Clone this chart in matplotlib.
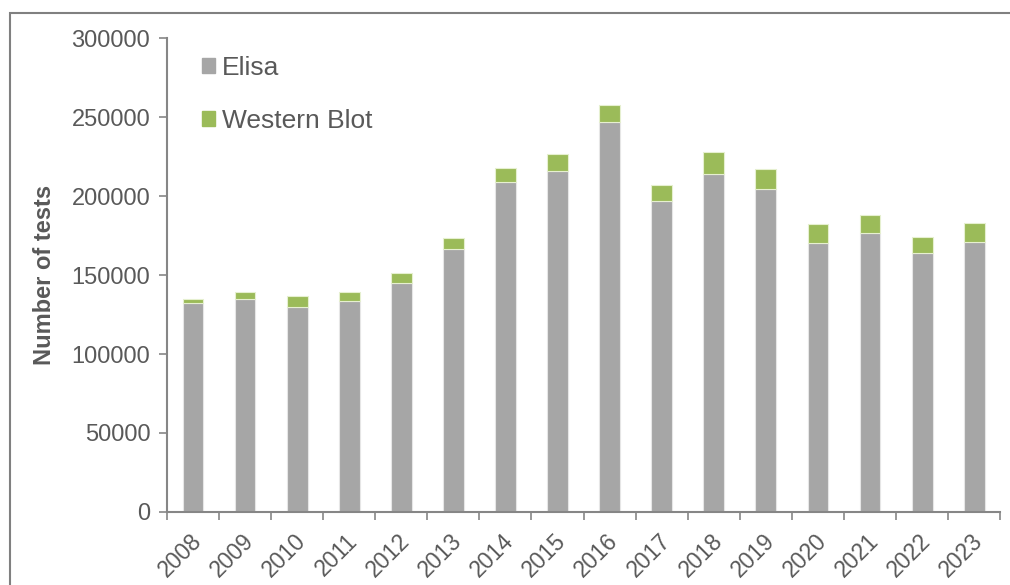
import matplotlib.pyplot as plt
from matplotlib.patches import Rectangle, Patch
import numpy as np

plt.rcParams['font.family'] = ['Liberation Sans', 'DejaVu Sans']

years = ['2008', '2009', '2010', '2011', '2012', '2013', '2014', '2015',
         '2016', '2017', '2018', '2019', '2020', '2021', '2022', '2023']
elisa = [132100, 134600, 129600, 133800, 145200, 166300, 208900, 216100,
         247100, 197100, 214200, 204700, 170500, 176800, 163700, 171100]
western_blot = [2800, 4400, 7400, 5700, 6100, 7400, 8600, 10300,
                10300, 10100, 13900, 12700, 11600, 11000, 10600, 11600]

grey = '#A6A6A6'
green = '#9BBB59'
text_col = '#595959'
axis_col = '#868686'

fig = plt.figure(figsize=(10.1, 5.85), dpi=100)
ax = fig.add_axes([0.1653, 0.1248, 0.8250, 0.8102])

x = np.arange(len(years))
ax.bar(x, elisa, width=0.4, color=grey, edgecolor='#E6E6E6', linewidth=0.8)
ax.bar(x, western_blot, bottom=elisa, width=0.4, color=green,
       edgecolor='#E6F0D0', linewidth=0.8)

ax.set_xlim(-0.5, len(years) - 0.5)
ax.set_ylim(0, 300000)
ax.set_yticks(np.arange(0, 300001, 50000))
ax.set_yticklabels([str(v) for v in range(0, 300001, 50000)])

# ticks on the x axis sit between the categories
ax.set_xticks(np.arange(-0.5, len(years), 1.0))
ax.set_xticklabels([])
ax.tick_params(axis='x', length=6, width=1.2, color=axis_col, direction='out')
ax.tick_params(axis='y', length=6, width=1.2, color=axis_col, direction='out',
               labelsize=17, labelcolor=text_col, pad=6)
for i, yr in enumerate(years):
    ax.text(i - 0.06, -11000, yr, rotation=45, rotation_mode='anchor',
            ha='right', va='top', fontsize=16.5, color=text_col)

for side in ('top', 'right'):
    ax.spines[side].set_visible(False)
for side in ('left', 'bottom'):
    ax.spines[side].set_color(axis_col)
    ax.spines[side].set_linewidth(1.5)

ax.set_ylabel('Number of tests', fontsize=17, fontweight='bold', color=text_col)
ax.yaxis.set_label_coords(-0.133, 0.5)

handles = [Patch(color=grey, label='Elisa'), Patch(color=green, label='Western Blot')]
ax.legend(handles=handles, loc='upper left', bbox_to_anchor=(0.042, 0.963),
          borderaxespad=0, borderpad=0, frameon=False, fontsize=19,
          labelcolor=text_col, handlelength=0.5, handleheight=0.5,
          handletextpad=0.27, labelspacing=1.1)

# chart frame
fig.patches.append(Rectangle((10 / 1010, -0.1), 1.2, 1 - 13 / 585 + 0.1,
                             transform=fig.transFigure, fill=False,
                             edgecolor='#808080', linewidth=1.5))

fig.savefig('out.png', dpi=100)
